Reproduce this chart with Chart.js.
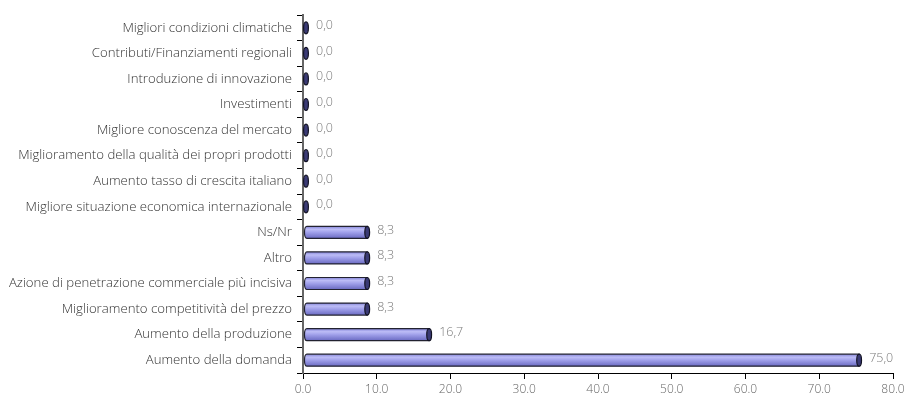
<!DOCTYPE html>
<html>
<head>
<meta charset="utf-8">
<script src="https://cdn.jsdelivr.net/npm/chart.js@4/dist/chart.umd.min.js"></script>
<style>
html,body{margin:0;padding:0;background:#fff;}
#wrap{width:904px;height:397px;}
</style>
</head>
<body>
<div id="wrap"><canvas id="c" width="904" height="397"></canvas></div>
<script>
const categories = [
  "Migliori condizioni climatiche",
  "Contributi/Finanziamenti regionali",
  "Introduzione di innovazione",
  "Investimenti",
  "Migliore conoscenza del mercato",
  "Miglioramento della qualità dei propri prodotti",
  "Aumento tasso di crescita italiano",
  "Migliore situazione economica internazionale",
  "Ns/Nr",
  "Altro",
  "Azione di penetrazione commerciale più incisiva",
  "Miglioramento competitività del prezzo",
  "Aumento della produzione",
  "Aumento della domanda"
];
const values = [0.0, 0.0, 0.0, 0.0, 0.0, 0.0, 0.0, 0.0, 8.3, 8.3, 8.3, 8.3, 16.7, 75.0];
const xTicks = [0, 10, 20, 30, 40, 50, 60, 70, 80];

const FONT = "'Open Sans', Lato, sans-serif";

const cylinderPlugin = {
  id: 'cylinder',
  afterDatasetsDraw(chart) {
    const ctx = chart.ctx;
    const meta = chart.getDatasetMeta(0);
    meta.data.forEach((bar, i) => {
      const h = bar.height;
      const top = bar.y - h / 2;
      const base = bar.base + 1;
      const end = bar.x + 3;
      const rx = 2.4;
      ctx.save();
      if (end - base > 5) {
        const g = ctx.createLinearGradient(0, top, 0, top + h);
        g.addColorStop(0, '#8585d8');
        g.addColorStop(0.25, '#bcbcf6');
        g.addColorStop(0.5, '#a0a0ea');
        g.addColorStop(1, '#6a6ac2');
        ctx.beginPath();
        ctx.moveTo(end, top);
        ctx.lineTo(base + rx, top);
        ctx.ellipse(base + rx, bar.y, rx, h / 2, 0, -Math.PI / 2, Math.PI / 2, true);
        ctx.lineTo(end, top + h);
        ctx.closePath();
        ctx.fillStyle = g;
        ctx.fill();
        ctx.lineWidth = 1.2;
        ctx.strokeStyle = '#222230';
        ctx.stroke();
      }
      ctx.beginPath();
      ctx.ellipse(end, bar.y, rx, h / 2, 0, 0, Math.PI * 2);
      ctx.fillStyle = '#3a3a74';
      ctx.fill();
      ctx.lineWidth = 1.2;
      ctx.strokeStyle = '#111122';
      ctx.stroke();
      ctx.font = "300 12.5px " + FONT;
      ctx.fillStyle = '#7a7a7a';
      ctx.textAlign = 'left';
      ctx.textBaseline = 'middle';
      const v = values[i].toFixed(1).replace('.', ',');
      ctx.fillText(v, end + 10, bar.y - 2);
      ctx.restore();
    });
  }
};

new Chart(document.getElementById('c'), {
  type: 'bar',
  data: {
    labels: categories,
    datasets: [{
      data: values,
      backgroundColor: 'rgba(0,0,0,0)',
      borderWidth: 0,
      barThickness: 12
    }]
  },
  options: {
    indexAxis: 'y',
    responsive: false,
    animation: false,
    events: [],
    layout: { padding: { top: 15, right: 11, bottom: 0, left: 0 } },
    plugins: { legend: { display: false }, tooltip: { enabled: false } },
    scales: {
      x: {
        min: 0, max: 80,
        afterBuildTicks(scale) { scale.ticks = xTicks.map(v => ({ value: v })); },
        afterFit(scale) { scale.height = 24; scale.paddingRight = 0; scale.paddingLeft = 0; },
        grid: { drawOnChartArea: false, drawTicks: true, tickLength: 6, color: '#000', lineWidth: 1 },
        border: { display: true, color: '#000', width: 1 },
        ticks: {
          padding: 3,
          color: '#666',
          font: { family: FONT, size: 12, weight: 300 },
          callback: v => Number(v).toFixed(1),
          maxRotation: 0
        }
      },
      y: {
        afterFit(scale) { scale.width = 303; scale.paddingTop = 0; scale.paddingBottom = 0; },
        grid: { drawOnChartArea: false, drawTicks: true, tickLength: 6, offset: true, color: '#000', lineWidth: 1 },
        border: { display: true, color: '#666', width: 2 },
        ticks: {
          padding: 5,
          color: '#333',
          font: { family: FONT, size: 13.2, weight: 300 },
          autoSkip: false
        }
      }
    }
  },
  plugins: [cylinderPlugin]
});
</script>
</body>
</html>
